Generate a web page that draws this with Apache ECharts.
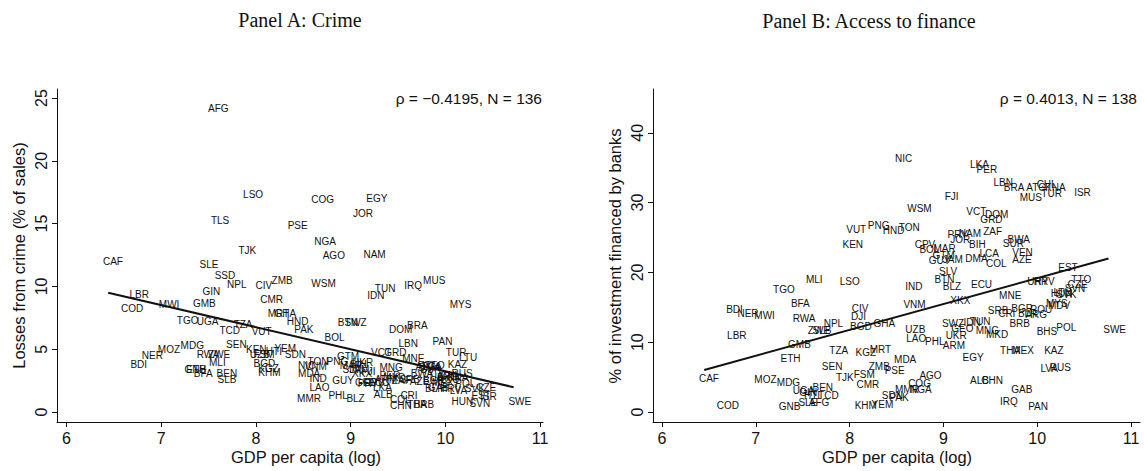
<!DOCTYPE html>
<html>
<head>
<meta charset="utf-8">
<script src="https://cdn.jsdelivr.net/npm/echarts@6/dist/echarts.min.js"></script>
<style>
  html, body { margin: 0; padding: 0; background: #ffffff; }
  #chart { width: 1144px; height: 471px; }
</style>
</head>
<body>
<div id="chart"></div>
<script>
// Panel A: losses from crime (% of sales) against log GDP per capita
const crimeCodes = [
  'AFG','LSO','TLS','TJK','CAF','SLE','PSE','COG','EGY','JOR',
  'NGA','AGO','NAM','SSD','MUS','NPL','CIV','ZMB','GIN','LBR',
  'COD','MWI','GMB','CMR','TGO','UGA','TCD','TZA','VUT','MRT',
  'GHA','HND','PAK','WSM','TUN','IDN','IRQ','MYS','BTN','SWZ',
  'DOM','BRA','BOL','LBN','PAN','TUR','LTU','KAZ','RUS','VCT',
  'GRD','MNE','MNG','BWA','PER','POL','CZE','SVK','EST','ISR',
  'HUN','SVN','SWE','CHN','THA','BRB','COL','CRI','ALB','LKA',
  'KEN','YEM','FSM','SDN','BGD','KGZ','KHM','TON','PNG','GTM',
  'NIC','VNM','MDA','IND','LAO','MMR','PHL','BLZ','GUY','UKR',
  'XKX','SEN','MDG','MOZ','NER','BDI','RWA','ZWE','MLI','GNB',
  'ETH','BFA','BEN','SLB','SLV','JAM','MAR','BIH','GEO','ECU',
  'ARM','ZAF','MKD','SRB','AZE','BGR','MEX','ROU','BLR','HRV',
  'LVA','URY','ARG','CHL','KNA','ATG','LCA','TTO','DMA','UZB',
  'HTI','FJI','CPV','PRY','SUR','GAB'
];
const crimeGdp = [
  7.55, 7.92, 7.58, 7.87, 6.44, 7.46, 8.39, 8.64, 9.22, 9.08,
  8.67, 8.76, 9.19, 7.62, 9.82, 7.75, 8.05, 8.22, 7.49, 6.72,
  6.63, 7.03, 7.39, 8.10, 7.22, 7.43, 7.67, 7.82, 8.01, 8.18,
  8.25, 8.38, 8.46, 8.64, 9.31, 9.23, 9.62, 10.10, 8.92, 8.99,
  9.46, 9.65, 8.78, 9.56, 9.92, 10.06, 10.20, 10.08, 10.12, 9.27,
  9.41, 9.60, 9.36, 9.69, 9.36, 10.16, 10.38, 10.26, 10.33, 10.42,
  10.12, 10.31, 10.72, 9.47, 9.65, 9.72, 9.47, 9.58, 9.30, 9.29,
  7.95, 8.25, 8.03, 8.36, 8.03, 8.08, 8.08, 8.60, 8.80, 8.91,
  8.50, 8.57, 8.50, 8.62, 8.62, 8.49, 8.82, 9.01, 8.86, 9.07,
  9.07, 7.74, 7.26, 7.02, 6.85, 6.73, 7.43, 7.55, 7.56, 7.30,
  7.32, 7.40, 7.64, 7.65, 8.97, 9.04, 8.94, 9.05, 9.10, 9.24,
  9.31, 9.49, 9.40, 9.57, 9.68, 9.82, 9.91, 9.97, 9.84, 10.00,
  10.10, 9.89, 9.96, 10.00, 10.08, 9.74, 9.81, 9.84, 9.77, 7.99,
  8.16, 9.17, 9.19, 9.13, 9.79, 9.87
];
const crimeLoss = [
  24.18, 17.28, 15.21, 12.82, 11.97, 11.70, 14.81, 16.88, 17.01, 15.82,
  13.56, 12.42, 12.50, 10.83, 10.45, 10.11, 10.06, 10.45, 9.58, 9.32,
  8.25, 8.54, 8.60, 8.92, 7.27, 7.19, 6.47, 6.93, 6.35, 7.80,
  7.80, 7.19, 6.53, 10.25, 9.79, 9.26, 10.03, 8.52, 7.11, 7.11,
  6.58, 6.87, 5.87, 5.41, 5.60, 4.75, 4.33, 3.74, 3.08, 4.75,
  4.75, 4.20, 3.53, 3.03, 2.87, 2.23, 1.91, 1.83, 1.27, 1.22,
  0.82, 0.69, 0.82, 0.48, 0.61, 0.61, 1.01, 1.27, 1.41, 1.89,
  4.99, 5.02, 4.54, 4.54, 3.80, 3.46, 3.13, 3.96, 3.96, 4.38,
  3.66, 3.58, 3.03, 2.68, 1.89, 1.09, 1.27, 1.04, 2.49, 3.88,
  3.08, 5.33, 5.28, 4.99, 4.48, 3.74, 4.59, 4.59, 3.93, 3.40,
  3.40, 3.03, 3.08, 2.60, 3.34, 3.34, 3.66, 3.74, 2.31, 2.31,
  2.55, 2.47, 2.71, 2.55, 2.39, 2.47, 2.31, 2.55, 1.83, 1.83,
  1.67, 2.71, 2.79, 2.87, 2.71, 3.58, 3.58, 3.66, 3.50, 4.54,
  4.78, 3.18, 2.31, 2.23, 3.34, 1.91
];
const crimeFitGdp = [6.44, 10.72];
const crimeFitLoss = [9.50, 1.97];

// Panel B: share of investment financed by banks against log GDP per capita
const financeCodes = [
  'NIC','LKA','PER','LBN','BRA','ATG','CHL','KNA','TUR','MUS',
  'ISR','FJI','WSM','VCT','DOM','GRD','VUT','PNG','HND','TON',
  'KEN','PRY','JOR','NAM','ZAF','BIH','BWA','SUR','CPV','BOL',
  'MAR','GTM','GUY','JAM','DMA','LCA','COL','VEN','AZE','SLV',
  'BTN','BLZ','IND','ECU','URY','HRV','XKX','MNE','VNM','SRB',
  'CRI','BGR','ROU','ARG','BRB','MYS','MDV','EST','TTO','CZE',
  'SVN','SVK','LTU','HUN','POL','BHS','SWE','THA','MEX','KAZ',
  'LVA','RUS','GAB','IRQ','PAN','ALB','CHN','EGY','ARM','PHL',
  'LAO','UZB','UKR','SWZ','GEO','IDN','TUN','MNG','MKD','GHA',
  'BGD','DJI','CIV','NPL','MLI','LSO','TGO','BFA','BDI','NER',
  'MWI','RWA','ZWE','SLB','LBR','GMB','ETH','TZA','KGZ','MRT',
  'SEN','ZMB','MDA','PSE','TJK','FSM','CMR','AGO','COG','MMR',
  'NGA','SDN','PAK','KHM','YEM','MOZ','MDG','CAF','COD','GNB',
  'BEN','UGA','GIN','TCD','SLE','AFG','HTI','BLR'
];
const financeGdp = [
  8.54, 9.34, 9.41, 9.59, 9.70, 9.94, 10.05, 10.14, 10.10, 9.87,
  10.45, 9.07, 8.67, 9.30, 9.50, 9.45, 8.02, 8.25, 8.41, 8.58,
  7.98, 9.10, 9.13, 9.22, 9.48, 9.33, 9.74, 9.69, 8.75, 8.80,
  8.95, 8.94, 8.90, 9.05, 9.29, 9.44, 9.51, 9.79, 9.79, 9.01,
  8.96, 9.05, 8.65, 9.35, 9.95, 10.02, 9.13, 9.65, 8.63, 9.53,
  9.64, 9.78, 9.98, 9.93, 9.76, 10.15, 10.17, 10.28, 10.42, 10.38,
  10.35, 10.26, 10.23, 10.20, 10.26, 10.05, 10.76, 9.66, 9.79, 10.13,
  10.09, 10.19, 9.78, 9.66, 9.96, 9.34, 9.46, 9.26, 9.05, 8.86,
  8.66, 8.65, 9.08, 9.04, 9.14, 9.27, 9.34, 9.40, 9.51, 8.31,
  8.06, 8.07, 8.08, 7.78, 7.59, 7.95, 7.24, 7.43, 6.74, 6.86,
  7.04, 7.45, 7.61, 7.66, 6.75, 7.40, 7.32, 7.84, 8.12, 8.27,
  7.76, 8.26, 8.53, 8.43, 7.91, 8.10, 8.13, 8.80, 8.68, 8.54,
  8.70, 8.40, 8.48, 8.11, 8.29, 7.04, 7.28, 6.45, 6.64, 7.30,
  7.66, 7.45, 7.52, 7.72, 7.51, 7.62, 7.57, 9.85
];
const financeBanks = [
  36.25, 35.39, 34.67, 32.85, 32.19, 32.19, 32.50, 32.19, 31.33, 30.76,
  31.48, 30.85, 29.18, 28.70, 28.22, 27.51, 26.17, 26.69, 25.97, 26.46,
  23.93, 25.36, 24.74, 25.60, 25.83, 24.03, 24.64, 24.17, 23.93, 23.31,
  23.40, 22.35, 21.63, 21.78, 22.02, 22.73, 21.20, 22.82, 21.88, 20.10,
  19.01, 17.95, 17.95, 18.19, 18.67, 18.67, 15.95, 16.62, 15.33, 14.52,
  14.14, 14.86, 14.61, 13.90, 12.70, 15.57, 15.20, 20.73, 19.01, 18.19,
  17.72, 16.76, 17.10, 16.90, 12.08, 11.50, 11.85, 8.78, 8.78, 8.74,
  6.16, 6.35, 3.15, 1.48, 0.76, 4.44, 4.44, 7.84, 9.46, 10.07,
  10.56, 11.85, 10.89, 12.70, 11.99, 12.80, 12.94, 11.60, 11.03, 12.61,
  12.22, 13.65, 14.86, 12.70, 18.91, 18.67, 17.58, 15.57, 14.71, 14.04,
  13.75, 13.42, 11.60, 11.60, 10.89, 9.70, 7.69, 8.74, 8.55, 8.88,
  6.49, 6.49, 7.55, 5.87, 4.97, 5.30, 3.97, 5.16, 4.11, 3.25,
  3.25, 2.29, 2.05, 0.86, 1.10, 4.58, 4.25, 4.73, 0.86, 0.76,
  3.54, 3.00, 2.72, 2.29, 1.33, 1.33, 2.40, 14.10
];
const financeFitGdp = [6.45, 10.76];
const financeFitBanks = [6.02, 22.00];

const gdpTicks = [6, 7, 8, 9, 10, 11];
const crimeTicks = [0, 5, 10, 15, 20, 25];
const financeTicks = [0, 10, 20, 30, 40];

const SANS = '"Liberation Sans", Arial, Helvetica, sans-serif';
const SERIF = '"Liberation Serif", "DejaVu Serif", serif';
const INK = '#111111';

function points(xs, ys, codes) {
  return codes.map((c, i) => ({ name: c, value: [xs[i], ys[i]] }));
}
function pairs(xs, ys) {
  return xs.map((x, i) => [x, ys[i]]);
}

function xAxisFor(gridIndex, min, max) {
  return {
    type: 'value', gridIndex, min, max,
    axisLine: { show: true, onZero: false, lineStyle: { color: INK, width: 1 } },
    axisTick: { show: true, customValues: gdpTicks, length: 5, inside: false, lineStyle: { color: INK } },
    axisLabel: { show: true, customValues: gdpTicks, color: INK, fontFamily: SANS, fontSize: 16, margin: 8 },
    splitLine: { show: false }
  };
}
function yAxisFor(gridIndex, min, max, ticks) {
  return {
    type: 'value', gridIndex, min, max,
    axisLine: { show: true, onZero: false, lineStyle: { color: INK, width: 1 } },
    axisTick: { show: true, customValues: ticks, length: 5, inside: false, lineStyle: { color: INK } },
    axisLabel: { show: true, customValues: ticks, rotate: 90, color: INK, fontFamily: SANS, fontSize: 16, margin: 8 },
    splitLine: { show: false }
  };
}

// country code labels: left edge a few pixels left of the point, vertically centred
const labelStyle = {
  show: true,
  position: [-5, 0],
  align: 'left',
  verticalAlign: 'middle',
  formatter: '{b}',
  color: '#111111',
  opacity: 1,
  textBorderWidth: 0,
  textBorderColor: 'transparent',
  textShadowBlur: 0,
  fontFamily: SANS,
  fontSize: 10
};

function scatterSeries(idx, data) {
  return {
    type: 'scatter', xAxisIndex: idx, yAxisIndex: idx,
    symbolSize: 0.5,
    itemStyle: { color: 'transparent', borderWidth: 0 },
    label: labelStyle,
    labelLayout: { hideOverlap: false },
    emphasis: { disabled: true },
    data,
    z: 3
  };
}
function fitSeries(idx, data) {
  return {
    type: 'line', xAxisIndex: idx, yAxisIndex: idx,
    data, showSymbol: false, symbol: 'none',
    lineStyle: { color: INK, width: 2 },
    emphasis: { disabled: true },
    z: 4
  };
}

function text(x, y, str, opts) {
  return Object.assign({
    type: 'text', x, y,
    style: Object.assign({
      text: str, fill: INK, font: '16px ' + SANS,
      textAlign: 'center', textVerticalAlign: 'middle'
    }, opts && opts.style)
  }, opts && opts.extra);
}

const chart = echarts.init(document.getElementById('chart'), null, { renderer: 'svg' });
chart.setOption({
  animation: false,
  backgroundColor: '#ffffff',
  grid: [
    { left: 57, top: 89, width: 486, height: 333, containLabel: false },
    { left: 653, top: 89, width: 487, height: 333, containLabel: false }
  ],
  xAxis: [xAxisFor(0, 5.90, 11.03), xAxisFor(1, 5.904, 11.096)],
  yAxis: [yAxisFor(0, -0.80, 25.72, crimeTicks), yAxisFor(1, -1.43, 46.28, financeTicks)],
  series: [
    scatterSeries(0, points(crimeGdp, crimeLoss, crimeCodes)),
    fitSeries(0, pairs(crimeFitGdp, crimeFitLoss)),
    scatterSeries(1, points(financeGdp, financeBanks, financeCodes)),
    fitSeries(1, pairs(financeFitGdp, financeFitBanks))
  ],
  graphic: [
    text(300, 20, 'Panel A: Crime', { style: { font: '20px ' + SERIF } }),
    text(869, 21, 'Panel B: Access to finance', { style: { font: '20px ' + SERIF } }),
    text(306, 457, 'GDP per capita (log)', { style: { font: '16.5px ' + SANS } }),
    text(897, 457, 'GDP per capita (log)', { style: { font: '16.5px ' + SANS } }),
    text(19, 255.5, 'Losses from crime (% of sales)', { style: { font: '16.5px ' + SANS }, extra: { rotation: Math.PI / 2 } }),
    text(615, 256, '% of investment financed by banks', { style: { font: '16.5px ' + SANS }, extra: { rotation: Math.PI / 2 } }),
    text(542, 98, 'ρ = −0.4195, N = 136', { style: { textAlign: 'right', font: '15.5px ' + SANS } }),
    text(1137, 98, 'ρ = 0.4013, N = 138', { style: { textAlign: 'right', font: '15.5px ' + SANS } })
  ]
});
</script>
</body>
</html>
